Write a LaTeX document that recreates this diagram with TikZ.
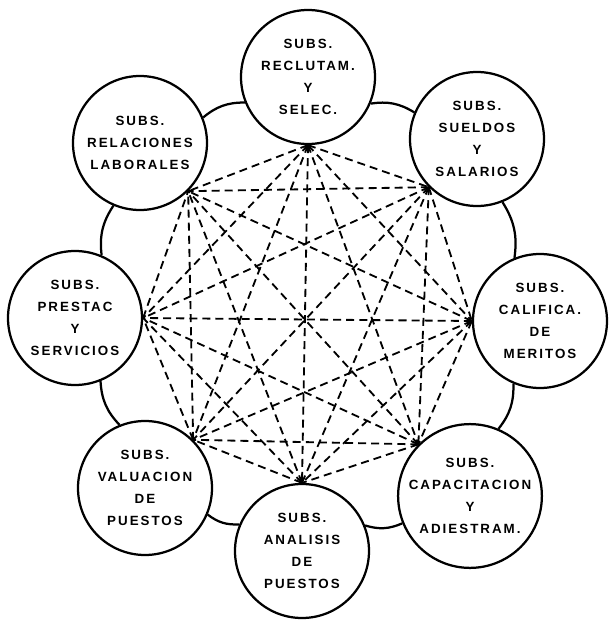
\documentclass[tikz,border=0pt]{standalone}
\usepackage{fontspec}
\setmainfont{Liberation Sans}[LetterSpace=15]
\usepackage{tikz}

\begin{document}
\begin{tikzpicture}[
  subsistema/.style={circle,draw,line width=1.6pt,minimum size=3.35cm,inner sep=0pt,
    align=center,font=\fontsize{9.5}{15.6}\selectfont\bfseries},
  enlace/.style={line width=1.3pt,dash pattern=on 5.7pt off 3.6pt},
  borde/.style={line width=1.6pt}]
\useasboundingbox (-7.7,-7.625) rectangle (7.525,7.925);
% los ocho subsistemas
\node[subsistema] (t) at (0,6.0) {SUBS.\\RECLUTAM.\\Y\\SELEC.};
\node[subsistema] (tr) at (4.225,4.45) {SUBS.\\SUELDOS\\Y\\SALARIOS};
\node[subsistema] (r) at (5.8,-0.1) {SUBS.\\CALIFICA.\\DE\\MERITOS};
\node[subsistema] (br) at (4.05,-4.475) {SUBS.\\CAPACITACION\\Y\\ADIESTRAM.};
\node[subsistema] (b) at (-0.15,-5.85) {SUBS.\\ANALISIS\\DE\\PUESTOS};
\node[subsistema] (bl) at (-4.075,-4.275) {SUBS.\\VALUACION\\DE\\PUESTOS};
\node[subsistema] (l) at (-5.825,-0.025) {SUBS.\\PRESTAC\\Y\\SERVICIOS};
\node[subsistema] (tl) at (-4.2,4.35) {SUBS.\\RELACIONES\\LABORALES};
% anillo exterior
\draw[borde] (r.112.5) to[bend right=20] (tr.292.5);
\draw[borde] (tr.157.5) to[bend right=20] (t.337.5);
\draw[borde] (t.202.5) to[bend right=20] (tl.22.5);
\draw[borde] (tl.247.5) to[bend right=20] (l.67.5);
\draw[borde] (l.292.5) to[bend right=20] (bl.112.5);
\draw[borde] (bl.337.5) to[bend right=20] (b.157.5);
\draw[borde] (b.22.5) to[bend right=20] (br.202.5);
\draw[borde] (br.67.5) to[bend right=20] (r.247.5);
% puntos de union hacia el centro
\coordinate (h1) at (t.270);
\coordinate (h2) at (tr.225);
\coordinate (h3) at (r.180);
\coordinate (h4) at (br.135);
\coordinate (h5) at (b.90);
\coordinate (h6) at (bl.45);
\coordinate (h7) at (l.0);
\coordinate (h8) at (tl.315);
% todos contra todos
\foreach \i in {1,...,7}{
  \pgfmathtruncatemacro\k{\i+1}
  \foreach \j in {\k,...,8}
    \draw[enlace] (h\i) -- (h\j);
}
\end{tikzpicture}
\end{document}
